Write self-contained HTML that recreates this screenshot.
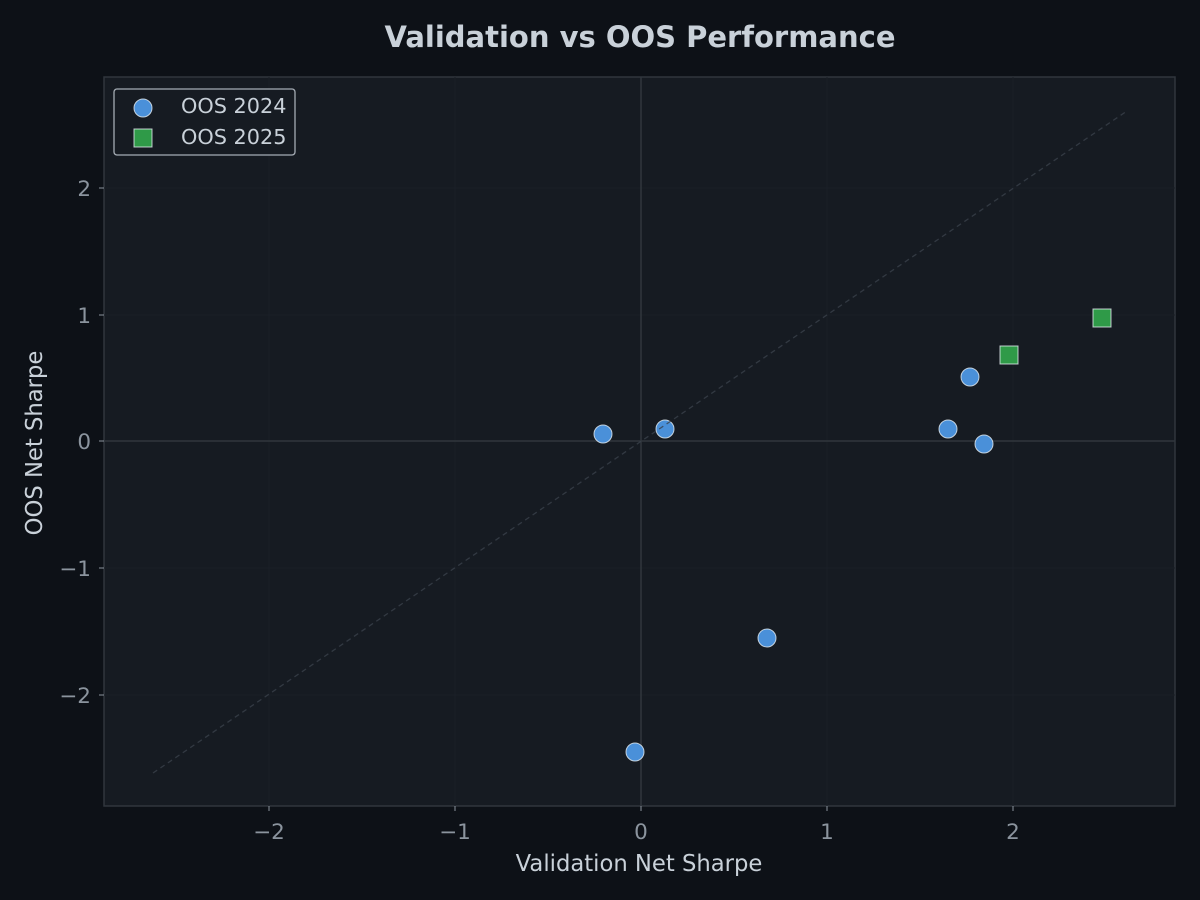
<!DOCTYPE html>
<html><head><meta charset="utf-8"><style>
html,body{margin:0;padding:0;background:#0d1117;}
svg{display:block;font-family:"DejaVu Sans","Liberation Sans",sans-serif;}
</style></head><body>
<svg width="1200" height="900" viewBox="0 0 1200 900" xmlns="http://www.w3.org/2000/svg">
<rect width="1200" height="900" fill="#0d1117"/>
<rect x="104" y="77" width="1071" height="729" fill="#161b22" stroke="#30363d" stroke-width="1.5"/>
<g stroke="#1a1f27" stroke-width="1">
<line x1="269" y1="77" x2="269" y2="806"/><line x1="455" y1="77" x2="455" y2="806"/><line x1="827" y1="77" x2="827" y2="806"/><line x1="1013" y1="77" x2="1013" y2="806"/>
<line x1="104" y1="188" x2="1175" y2="188"/><line x1="104" y1="315" x2="1175" y2="315"/><line x1="104" y1="568" x2="1175" y2="568"/><line x1="104" y1="695" x2="1175" y2="695"/>
</g>
<line x1="641" y1="77" x2="641" y2="806" stroke="#30363d" stroke-width="1.5"/>
<line x1="104" y1="441" x2="1175" y2="441" stroke="#30363d" stroke-width="1.5"/>
<g fill="#4a90d9" stroke="#e6edf3" stroke-width="1" stroke-opacity="0.8">
<circle cx="603" cy="434" r="9"/><circle cx="665" cy="429" r="9"/><circle cx="767" cy="638" r="9"/><circle cx="635" cy="752" r="9"/><circle cx="948" cy="429" r="9"/><circle cx="970" cy="377" r="9"/><circle cx="984" cy="444" r="9"/>
</g>
<g fill="#2f9a48" stroke="#e6edf3" stroke-width="1" stroke-opacity="0.8">
<rect x="1000" y="346" width="18" height="18"/><rect x="1093" y="309" width="18" height="18"/>
</g>
<line x1="153" y1="773" x2="1127" y2="111" stroke="#3a414b" stroke-width="1.3" stroke-dasharray="5,4" opacity="0.8"/>
<g stroke="#8b949e" stroke-width="1">
<line x1="269" y1="806" x2="269" y2="811"/><line x1="455" y1="806" x2="455" y2="811"/><line x1="641" y1="806" x2="641" y2="811"/><line x1="827" y1="806" x2="827" y2="811"/><line x1="1013" y1="806" x2="1013" y2="811"/>
<line x1="99" y1="188" x2="104" y2="188"/><line x1="99" y1="315" x2="104" y2="315"/><line x1="99" y1="441" x2="104" y2="441"/><line x1="99" y1="568" x2="104" y2="568"/><line x1="99" y1="695" x2="104" y2="695"/>
</g>
<g fill="#8b949e" font-size="21.5" text-anchor="middle">
<text x="269" y="839">−2</text><text x="455" y="839">−1</text><text x="641" y="839">0</text><text x="827" y="839">1</text><text x="1013" y="839">2</text>
</g>
<g fill="#8b949e" font-size="21.5" text-anchor="end">
<text x="91" y="196">2</text><text x="91" y="323">1</text><text x="91" y="449">0</text><text x="91" y="576">−1</text><text x="91" y="703">−2</text>
</g>
<text x="639" y="871" fill="#c9d1d9" font-size="22.7" text-anchor="middle">Validation Net Sharpe</text>
<text transform="translate(42,443) rotate(-90)" fill="#c9d1d9" font-size="22.7" text-anchor="middle">OOS Net Sharpe</text>
<text x="640" y="47" fill="#c9d1d9" font-size="29" font-weight="bold" text-anchor="middle">Validation vs OOS Performance</text>
<rect x="114" y="89" width="181" height="66" rx="3" fill="#161b22" stroke="#c9d1d9" stroke-opacity="0.8" stroke-width="1.3"/>
<circle cx="143" cy="108" r="9" fill="#4a90d9" stroke="#e6edf3" stroke-width="1" stroke-opacity="0.8"/>
<rect x="134" y="129" width="18" height="18" fill="#2f9a48" stroke="#e6edf3" stroke-width="1" stroke-opacity="0.8"/>
<text x="181" y="113" fill="#c9d1d9" font-size="20.8">OOS 2024</text>
<text x="181" y="144" fill="#c9d1d9" font-size="20.8">OOS 2025</text>
</svg>
</body></html>
